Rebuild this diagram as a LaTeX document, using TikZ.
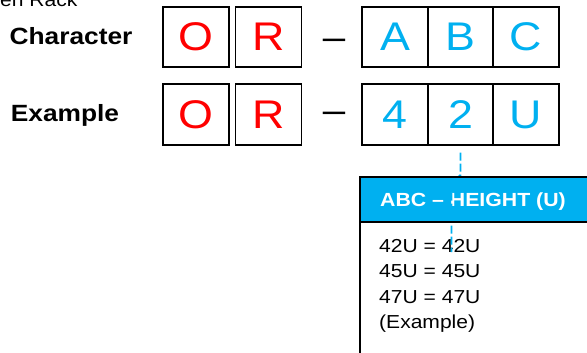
\documentclass[tikz,border=0pt]{standalone}
\usepackage{fontspec}
\setmainfont{Liberation Sans}[FakeStretch=1.12]
\definecolor{rackred}{HTML}{FF0000}
\definecolor{rackblue}{HTML}{00B0F0}
\begin{document}
\begin{tikzpicture}[x=1pt, y=-1pt, line join=miter,
	cell/.style={draw, line width=1.8pt, minimum width=66pt, minimum height=60.5pt, inner sep=0pt, font=\fontsize{40}{40}\selectfont},
	rowlabel/.style={inner sep=0pt, anchor=base, font=\fontsize{23.5}{28}\selectfont\bfseries},
	plain/.style={inner sep=0pt, font=\fontsize{18.8}{25.5}\selectfont}]
	\useasboundingbox (0,0) rectangle (587,353);
	\node[plain, anchor=base west] (title) at (0,7) {en Rack};
	\node[rowlabel] (char) at (71,44.5) {Character};
	\node[rowlabel] (exam) at (65,121.5) {Example};
	\foreach \n/\x/\y/\t/\c in {o1/196/37/O/rackred, r1/268.5/37/R/rackred, a1/395/37/A/rackblue, b1/460.5/37/B/rackblue, c1/526/37/C/rackblue, o2/196/114.5/O/rackred, r2/268.5/114.5/R/rackred, a2/395/114.5/4/rackblue, b2/460.5/114.5/2/rackblue, c2/526/114.5/U/rackblue}
	\node[cell, text=\c] (\n) at (\x,\y) {\t};
	\foreach \n/\b in {dash1/49.5, dash2/122.5}
	\node[inner sep=0pt, anchor=base, font=\fontsize{36}{36}\selectfont] (\n) at (334,\b) {–};
	\fill[rackblue] (360,177) rectangle (600,222);
	\node[plain, anchor=base west, text=white, font=\fontsize{19}{22}\selectfont\bfseries] (head) at (380,206.7) {ABC – HEIGHT (U)};
	\node[plain, anchor=north west, align=left] (body) at (379,239) {42U = 42U\\45U = 45U\\47U = 47U\\(Example)};
	\path
	(460.5,175) coordinate (bend)
	(451.5,183) coordinate (jog)
	(451.5,252) coordinate (tip)
	;
	\draw[rackblue, line width=1.8pt, dash pattern=on 8pt off 3pt, shorten <=7pt] (b2.south) -- (bend) -- (jog) -- (tip);
	\draw[line width=1.8pt] (600,177) -- (360,177) -- (360,360);
	\draw[line width=1.5pt] (360,222) -- (600,222);
\end{tikzpicture}
\end{document}
